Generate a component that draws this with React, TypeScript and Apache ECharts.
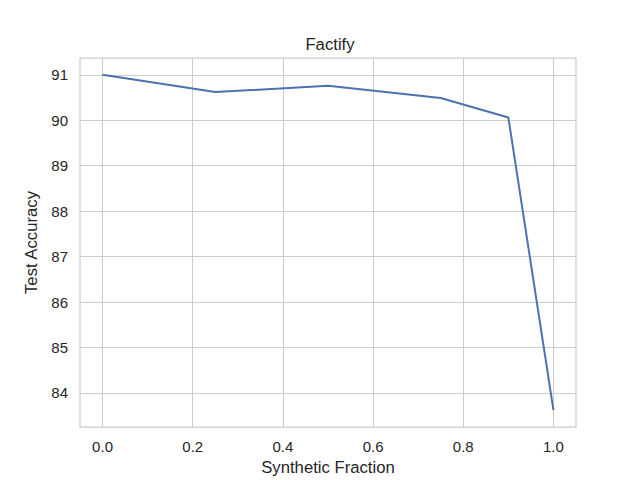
import React, { useEffect, useRef } from "react";
import * as echarts from "echarts";

const fractions = [0.0, 0.25, 0.5, 0.75, 0.9, 1.0];
const accuracy = [91.0, 90.62, 90.76, 90.49, 90.06, 83.62];
const xTicks = [0.0, 0.2, 0.4, 0.6, 0.8, 1.0];
const yTicks = [84, 85, 86, 87, 88, 89, 90, 91];

export default function App() {
  const ref = useRef<HTMLDivElement>(null);
  useEffect(() => {
    if (!ref.current) return;
    const chart = echarts.init(ref.current, null, { renderer: "svg" });
    const font = "'Liberation Sans', Arial, sans-serif";
    chart.setOption({
      animation: false,
      backgroundColor: "#ffffff",
      title: {
        text: "Factify",
        left: 325,
        top: 31,
        textAlign: "center",
        textStyle: { fontFamily: font, fontSize: 16.7, fontWeight: "normal", color: "#262626" },
      },
      grid: {
        left: 80,
        right: 64,
        top: 58,
        bottom: 53,
        show: true,
        borderColor: "#cccccc",
        borderWidth: 1.25,
        containLabel: false,
        outerBoundsMode: "none",
      },
      xAxis: {
        type: "value",
        min: -0.05,
        max: 1.05,
        name: "Synthetic Fraction",
        nameLocation: "middle",
        nameGap: 32,
        nameTextStyle: { fontFamily: font, fontSize: 16.7, color: "#262626" },
        axisLine: { show: false },
        axisTick: { show: false, customValues: xTicks },
        axisLabel: {
          fontFamily: font,
          fontSize: 15,
          color: "#262626",
          margin: 12,
          customValues: xTicks,
          formatter: (v: number) => v.toFixed(1),
        },
        splitLine: { show: true, lineStyle: { color: "#cccccc", width: 1 } },
      },
      yAxis: {
        type: "value",
        min: 83.25,
        max: 91.37,
        name: "Test Accuracy",
        nameLocation: "middle",
        nameGap: 35,
        nameTextStyle: { fontFamily: font, fontSize: 16.7, color: "#262626" },
        axisLine: { show: false },
        axisTick: { show: false, customValues: yTicks },
        axisLabel: {
          fontFamily: font,
          fontSize: 15,
          color: "#262626",
          margin: 12,
          customValues: yTicks,
          formatter: (v: number) => String(Math.round(v)),
        },
        splitLine: { show: true, lineStyle: { color: "#cccccc", width: 1 } },
      },
      series: [
        {
          type: "line",
          data: fractions.map((f, i) => [f, accuracy[i]]),
          showSymbol: false,
          symbol: "none",
          lineStyle: { color: "#4c72b0", width: 2 },
          itemStyle: { color: "#4c72b0" },
        },
      ],
    });
    return () => chart.dispose();
  }, []);
  return <div ref={ref} style={{ width: 640, height: 480, position: "absolute", left: 0, top: 0 }} />;
}
